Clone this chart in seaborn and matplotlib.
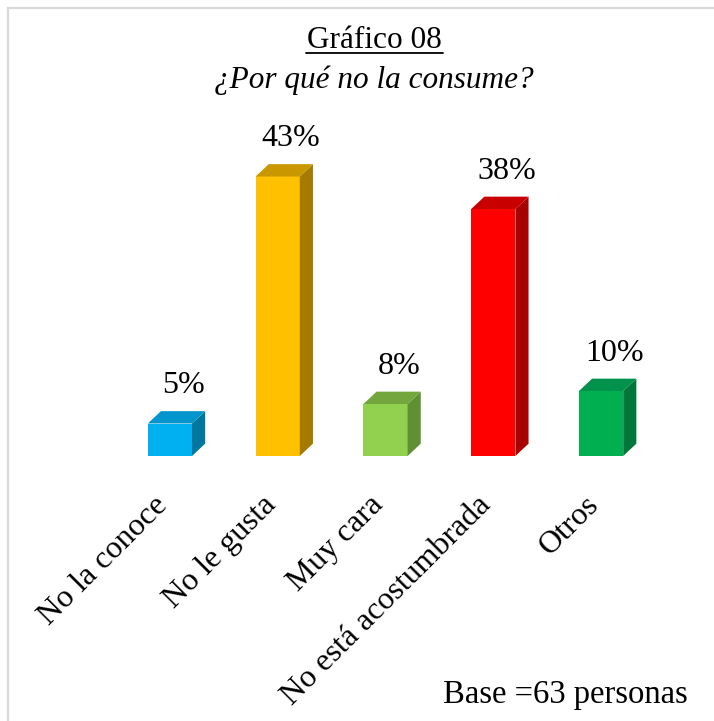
import matplotlib
matplotlib.use("Agg")
import matplotlib.pyplot as plt
from matplotlib.patches import Polygon, Rectangle
import seaborn as sns

# Survey results: reasons for not consuming
categories = ["No la conoce", "No le gusta", "Muy cara", "No está acostumbrada", "Otros"]
values = [5, 43, 8, 38, 10]
front_colors = ["#00B0F0", "#FFC000", "#92D050", "#FF0000", "#00B050"]
top_colors = ["#0495CC", "#C99700", "#73A63C", "#C80000", "#00924A"]
side_colors = ["#00779F", "#A47B00", "#608F34", "#A80000", "#00763A"]

title = "Gráfico 08"
subtitle = "¿Por qué no la consume?"
footnote = "Base =63 personas"

sns.set_theme(style="white")
plt.rcParams["font.family"] = ["Liberation Serif", "DejaVu Serif"]
plt.rcParams["text.color"] = "black"

W, H = 714, 721
fig = plt.figure(figsize=(W / 100, H / 100), dpi=100)
fig.patch.set_facecolor("white")

# outer frame of the chart area
fig.patches.append(Rectangle((8 / W, -0.05), 1.2, 1 - 8 / H + 0.05,
                             transform=fig.transFigure, fill=False,
                             edgecolor="#D9D9D9", linewidth=1.6))

ax = fig.add_axes([116 / W, (H - 456) / H, 539 / W, 325 / H])
df = {"cat": categories, "val": values}
sns.barplot(x="cat", y="val", hue="cat", data=df, palette=front_colors,
            width=0.41, legend=False, ax=ax, saturation=1, linewidth=0)

ax.set_xlim(-0.5, 4.5)
ax.set_ylim(0, 50)
ax.axis("off")

# depth of the 3D extrusion (data units)
dx, dy = 0.122, 1.9
for i, p in enumerate(ax.patches):
    xl = p.get_x()
    xr = xl + p.get_width()
    v = p.get_height()
    side = Polygon([(xr, 0), (xr + dx, dy), (xr + dx, v + dy), (xr, v)],
                   closed=True, facecolor=side_colors[i], edgecolor="none")
    top = Polygon([(xl, v), (xl + dx, v + dy), (xr + dx, v + dy), (xr, v)],
                  closed=True, facecolor=top_colors[i], edgecolor="none")
    ax.add_patch(side)
    ax.add_patch(top)
    cx = xl + p.get_width() / 2
    ax.annotate(f"{values[i]}%", xy=(cx + dx, v + dy), xytext=(0, 11),
                textcoords="offset pixels", ha="center", va="bottom",
                fontsize=23, color="black", annotation_clip=False)
    ax.annotate(categories[i], xy=(cx, 0), xytext=(-1, -50),
                textcoords="offset pixels", ha="right", va="baseline",
                rotation=45, rotation_mode="anchor", fontsize=23,
                color="black", annotation_clip=False)

fig.text(374 / W, 1 - 48 / H, title, ha="center", va="baseline",
         fontsize=22.5, color="black")
# underline under the title
fig.add_artist(plt.Line2D([306 / W, 443 / W], [1 - 53 / H, 1 - 53 / H],
                          transform=fig.transFigure, color="black", linewidth=1.3))
fig.text(374 / W, 1 - 88 / H, subtitle, ha="center", va="baseline",
         fontsize=22.5, style="italic", color="black")
fig.text(688 / W, 1 - 703 / H, footnote, ha="right", va="baseline",
         fontsize=23.5, color="black")

fig.savefig("out.png", dpi=100, facecolor="white")
